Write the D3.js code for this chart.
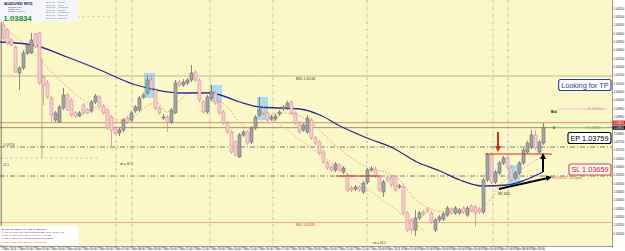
<!DOCTYPE html>
<html>
<head>
<meta charset="utf-8">
<script src="https://cdn.jsdelivr.net/npm/d3@7/dist/d3.min.js"></script>
<style>
  html, body { margin: 0; padding: 0; background: #ffffff; }
  svg { display: block; font-family: 'Liberation Sans', Arial, sans-serif; }
</style>
</head>
<body>
<div id="chart"></div>
<script>
const WIDTH = 625;
const HEIGHT = 251;
const PLOT_RIGHT = 612;
const PLOT_BOTTOM = 246;

// AUDUSD M15 candles
const opens = [
  1.04450, 1.04420, 1.04360, 1.04318, 1.04162, 1.04192, 1.04282, 1.04282, 1.04396, 1.04402,
  1.04138, 1.04102, 1.04012, 1.03880, 1.03868, 1.03952, 1.04030, 1.04000, 1.03922, 1.03904,
  1.03970, 1.03940, 1.03934, 1.03988, 1.04018, 1.03964, 1.03940, 1.03898, 1.03832, 1.03802,
  1.03820, 1.03892, 1.03880, 1.03934, 1.03940, 1.04018, 1.04042, 1.04120, 1.04060, 1.03952,
  1.03892, 1.03898, 1.03868, 1.03922, 1.04108, 1.04090, 1.04102, 1.04120, 1.04168, 1.04120,
  1.03988, 1.03928, 1.04012, 1.04042, 1.03988, 1.03928, 1.03862, 1.03808, 1.03748, 1.03658,
  1.03790, 1.03808, 1.03748, 1.03832, 1.03910, 1.03946, 1.03922, 1.03886, 1.03886, 1.03916,
  1.03946, 1.03952, 1.03988, 1.03922, 1.03862, 1.03820, 1.03808, 1.03880, 1.03772, 1.03748,
  1.03688, 1.03622, 1.03598, 1.03580, 1.03610, 1.03568, 1.03550, 1.03472, 1.03466, 1.03478,
  1.03448, 1.03508, 1.03580, 1.03586, 1.03538, 1.03448, 1.03538, 1.03532, 1.03538, 1.03478,
  1.03478, 1.03322, 1.03280, 1.03220, 1.03292, 1.03328, 1.03346, 1.03322, 1.03220, 1.03280,
  1.03286, 1.03310, 1.03346, 1.03322, 1.03322, 1.03352, 1.03310, 1.03364, 1.03358, 1.03346,
  1.03328, 1.03520, 1.03670, 1.03508, 1.03562, 1.03622, 1.03652, 1.03592, 1.03532, 1.03562,
  1.03622, 1.03688, 1.03718, 1.03790, 1.03688, 1.03742
];
const highs = [
  1.04468, 1.04432, 1.04372, 1.04330, 1.04204, 1.04300, 1.04342, 1.04402, 1.04402, 1.04408,
  1.04150, 1.04120, 1.04024, 1.03934, 1.03970, 1.04072, 1.04042, 1.04012, 1.03934, 1.03934,
  1.03982, 1.03952, 1.04000, 1.04036, 1.04030, 1.03976, 1.03952, 1.03910, 1.03844, 1.03832,
  1.03892, 1.03904, 1.03934, 1.03970, 1.04024, 1.04042, 1.04150, 1.04150, 1.04072, 1.03964,
  1.03916, 1.03910, 1.03952, 1.04120, 1.04120, 1.04126, 1.04132, 1.04210, 1.04180, 1.04132,
  1.04000, 1.04030, 1.04090, 1.04060, 1.04000, 1.03940, 1.03874, 1.03820, 1.03760, 1.03802,
  1.03820, 1.03820, 1.03844, 1.03910, 1.04018, 1.03964, 1.03934, 1.03910, 1.03916, 1.03940,
  1.03970, 1.03994, 1.04000, 1.03934, 1.03874, 1.03862, 1.03910, 1.03892, 1.03784, 1.03760,
  1.03700, 1.03634, 1.03610, 1.03628, 1.03622, 1.03604, 1.03562, 1.03484, 1.03490, 1.03490,
  1.03514, 1.03592, 1.03604, 1.03598, 1.03550, 1.03520, 1.03550, 1.03544, 1.03550, 1.03496,
  1.03490, 1.03334, 1.03292, 1.03340, 1.03334, 1.03340, 1.03358, 1.03334, 1.03292, 1.03310,
  1.03328, 1.03364, 1.03358, 1.03364, 1.03352, 1.03364, 1.03364, 1.03376, 1.03370, 1.03358,
  1.03532, 1.03682, 1.03688, 1.03580, 1.03634, 1.03664, 1.03664, 1.03604, 1.03574, 1.03634,
  1.03712, 1.03754, 1.03820, 1.03820, 1.03760, 1.03862
];
const lows = [
  1.04360, 1.04330, 1.04318, 1.04162, 1.04060, 1.04180, 1.04270, 1.04276, 1.04312, 1.04090,
  1.03970, 1.04006, 1.03862, 1.03868, 1.03862, 1.03940, 1.03934, 1.03898, 1.03892, 1.03898,
  1.03910, 1.03916, 1.03922, 1.03976, 1.03952, 1.03910, 1.03820, 1.03718, 1.03790, 1.03784,
  1.03808, 1.03856, 1.03868, 1.03922, 1.03928, 1.04006, 1.04030, 1.04060, 1.03940, 1.03910,
  1.03880, 1.03808, 1.03856, 1.03916, 1.04078, 1.04078, 1.04090, 1.04108, 1.04108, 1.03988,
  1.03916, 1.03916, 1.04000, 1.03970, 1.03910, 1.03850, 1.03796, 1.03676, 1.03658, 1.03652,
  1.03778, 1.03730, 1.03736, 1.03820, 1.03898, 1.03910, 1.03868, 1.03874, 1.03874, 1.03904,
  1.03934, 1.03940, 1.03910, 1.03850, 1.03796, 1.03808, 1.03796, 1.03760, 1.03730, 1.03670,
  1.03616, 1.03580, 1.03568, 1.03568, 1.03568, 1.03556, 1.03448, 1.03448, 1.03454, 1.03448,
  1.03436, 1.03496, 1.03568, 1.03532, 1.03448, 1.03418, 1.03508, 1.03478, 1.03448, 1.03466,
  1.03310, 1.03208, 1.03196, 1.03184, 1.03280, 1.03304, 1.03322, 1.03256, 1.03208, 1.03268,
  1.03274, 1.03298, 1.03310, 1.03310, 1.03310, 1.03316, 1.03298, 1.03328, 1.03238, 1.03316,
  1.03316, 1.03508, 1.03496, 1.03496, 1.03550, 1.03610, 1.03586, 1.03508, 1.03520, 1.03550,
  1.03610, 1.03676, 1.03706, 1.03700, 1.03676, 1.03730
];
const closes = [
  1.04372, 1.04342, 1.04330, 1.04168, 1.04192, 1.04282, 1.04330, 1.04360, 1.04318, 1.04102,
  1.04090, 1.04018, 1.03910, 1.03922, 1.03958, 1.04030, 1.03940, 1.03910, 1.03904, 1.03922,
  1.03922, 1.03922, 1.03988, 1.04024, 1.03958, 1.03922, 1.03832, 1.03820, 1.03802, 1.03820,
  1.03880, 1.03868, 1.03922, 1.03958, 1.04012, 1.04030, 1.04120, 1.04072, 1.03952, 1.03922,
  1.03898, 1.03868, 1.03940, 1.04102, 1.04090, 1.04108, 1.04120, 1.04162, 1.04120, 1.04000,
  1.03928, 1.04018, 1.04048, 1.03982, 1.03922, 1.03862, 1.03808, 1.03688, 1.03670, 1.03790,
  1.03808, 1.03742, 1.03832, 1.03898, 1.03940, 1.03922, 1.03880, 1.03898, 1.03904, 1.03928,
  1.03958, 1.03982, 1.03922, 1.03862, 1.03808, 1.03850, 1.03892, 1.03772, 1.03742, 1.03682,
  1.03628, 1.03592, 1.03580, 1.03616, 1.03580, 1.03592, 1.03460, 1.03460, 1.03478, 1.03460,
  1.03502, 1.03580, 1.03586, 1.03544, 1.03460, 1.03508, 1.03520, 1.03490, 1.03460, 1.03484,
  1.03322, 1.03220, 1.03220, 1.03292, 1.03322, 1.03316, 1.03334, 1.03268, 1.03280, 1.03298,
  1.03316, 1.03352, 1.03322, 1.03352, 1.03340, 1.03328, 1.03352, 1.03340, 1.03322, 1.03328,
  1.03520, 1.03670, 1.03508, 1.03568, 1.03622, 1.03652, 1.03598, 1.03520, 1.03562, 1.03622,
  1.03700, 1.03742, 1.03790, 1.03712, 1.03748, 1.03834
];

// slow (blue) and fast (orange) moving averages, sampled along the bars
const slowMaBars = [-0.75, 7.5, 16, 24.25, 32.5, 38.5, 44.25, 51.75, 54.25, 59.25, 64.25, 69.25, 74.25, 79.25, 84.25, 91, 97.5, 103.5, 109.25, 114.25, 120, 126, 130.5, 135];
const slowMaValues = [1.04348, 1.04330, 1.04258, 1.04180, 1.04096, 1.04060, 1.04042, 1.04042, 1.04030, 1.03988, 1.03958, 1.03952, 1.03946, 1.03910, 1.03844, 1.03772, 1.03712, 1.03628, 1.03574, 1.03520, 1.03484, 1.03490, 1.03520, 1.03568];
const fastMaBars = [0, 5, 11.75, 16, 20, 24.25, 29.25, 32.5, 36, 38.5, 41, 44.25, 47.5, 50, 53.5, 56.75, 59.25, 61.75, 64.25, 66.75, 70, 73.5, 76.75, 82.5, 86.75, 91, 96, 99.25, 102.5, 106, 110, 114.25, 119.25, 121.75, 124.25, 128.5, 132.5, 135];
const fastMaValues = [1.04438, 1.04342, 1.04180, 1.04078, 1.04000, 1.03940, 1.03880, 1.03898, 1.03964, 1.03982, 1.03928, 1.04000, 1.04048, 1.04048, 1.04012, 1.03940, 1.03862, 1.03832, 1.03868, 1.03910, 1.03922, 1.03910, 1.03868, 1.03742, 1.03658, 1.03598, 1.03562, 1.03520, 1.03418, 1.03358, 1.03328, 1.03328, 1.03340, 1.03400, 1.03490, 1.03568, 1.03628, 1.03670];

// hourly time labels on the bottom scale (every 4 bars)
const timeLabels = [
  '7 Mar 2013', '7 Mar 01:00', '7 Mar 02:00', '7 Mar 03:00', '7 Mar 04:00', '7 Mar 05:00',
  '7 Mar 06:00', '7 Mar 07:00', '7 Mar 08:00', '7 Mar 09:00', '7 Mar 10:00', '7 Mar 11:00',
  '7 Mar 12:00', '7 Mar 13:00', '7 Mar 14:00', '7 Mar 15:00', '7 Mar 16:00', '7 Mar 17:00',
  '7 Mar 18:00', '7 Mar 19:00', '7 Mar 20:00', '7 Mar 21:00', '7 Mar 22:00', '7 Mar 23:00',
  '8 Mar 2013', '8 Mar 01:00', '8 Mar 02:00', '8 Mar 03:00', '8 Mar 04:00', '8 Mar 05:00',
  '8 Mar 06:00', '8 Mar 07:00', '8 Mar 08:00', '8 Mar 09:00'
];

// horizontal levels drawn on the chart
const levelPrices = [1.04144, 1.03864, 1.03834, 1.03718, 1.03544, 1.03265];
const levelColors = ['#bcae84', '#c8866a', '#8c8458', '#6a6a6a', '#6a6a6a', '#e8a47c'];
const levelDashes = [null, null, null, '5,2,1,2', '5,2,1,2', null];

// vertical session separators (bar positions)
const separatorBars = [28.25, 32.25, 51.75, 67.5, 91, 122.5, 126.25];

// highlighted zones: [firstBar, lastBar] and [topPrice, bottomPrice]
const zoneBars = [[35.25, 38], [51.75, 54.75], [63.5, 66.25], [126.25, 129.25]];
const zonePrices = [[1.04162, 1.04012], [1.04090, 1.03988], [1.04018, 1.03880], [1.03610, 1.03490]];

const ASK = 1.03864;
const BID = 1.03834;
const TP_LINE = 1.03946;

document.addEventListener('DOMContentLoaded', () => {
    drawChart();
});

function drawChart() {
    const svg = d3.select('#chart')
        .append('svg')
        .attr('width', WIDTH)
        .attr('height', HEIGHT);

    const x = d3.scaleLinear().domain([-0.75, 152.25]).range([0, PLOT_RIGHT]);
    const y = d3.scaleLinear().domain([1.0460, 1.03124]).range([0, PLOT_BOTTOM]);

    svg.append('rect')
        .attr('width', WIDTH).attr('height', HEIGHT)
        .attr('fill', '#ffffff');
    svg.append('rect')
        .attr('x', 0).attr('y', 0)
        .attr('width', PLOT_RIGHT).attr('height', PLOT_BOTTOM)
        .attr('fill', '#fcf7c9');

    const plot = svg.append('g');

    // highlighted zones
    plot.selectAll('rect.zone')
        .data(zoneBars)
        .join('rect')
        .attr('class', 'zone')
        .attr('x', (d) => x(d[0]))
        .attr('width', (d) => x(d[1]) - x(d[0]))
        .attr('y', (d, i) => y(zonePrices[i][0]))
        .attr('height', (d, i) => y(zonePrices[i][1]) - y(zonePrices[i][0]))
        .attr('fill', '#9ad8ee')
        .attr('opacity', 0.85);

    // horizontal levels
    plot.selectAll('line.level')
        .data(levelPrices)
        .join('line')
        .attr('class', 'level')
        .attr('x1', 0).attr('x2', PLOT_RIGHT)
        .attr('y1', (d) => y(d)).attr('y2', (d) => y(d))
        .attr('stroke', (d, i) => levelColors[i])
        .attr('stroke-width', 0.9)
        .attr('stroke-dasharray', (d, i) => levelDashes[i]);

    // session separators
    plot.selectAll('line.sep')
        .data(separatorBars)
        .join('line')
        .attr('class', 'sep')
        .attr('x1', (d) => x(d)).attr('x2', (d) => x(d))
        .attr('y1', 0).attr('y2', PLOT_BOTTOM)
        .attr('stroke', '#999')
        .attr('stroke-width', 0.6)
        .attr('stroke-dasharray', '3,1.5,1,1.5');

    // old projection tool on the left
    plot.append('line')
        .attr('x1', x(9.75)).attr('x2', x(9.75))
        .attr('y1', y(1.04252)).attr('y2', y(1.03652))
        .attr('stroke', '#8a8a7a').attr('stroke-width', 0.7);
    plot.append('line')
        .attr('x1', x(-0.75)).attr('x2', x(24.25))
        .attr('y1', y(1.03652)).attr('y2', y(1.03652))
        .attr('stroke', '#e0a8a8').attr('stroke-width', 0.7)
        .attr('stroke-dasharray', '3,2');
    plot.append('line')
        .attr('x1', x(18.5)).attr('x2', x(27.5))
        .attr('y1', y(1.04500)).attr('y2', y(1.04500))
        .attr('stroke', '#e8c08a').attr('stroke-width', 0.7)
        .attr('stroke-dasharray', '3,2');

    // descending trend line
    plot.append('line')
        .attr('x1', x(67.5)).attr('y1', y(1.03880))
        .attr('x2', x(105.5)).attr('y2', y(1.03214))
        .attr('stroke', '#e4a88a').attr('stroke-width', 0.7)
        .attr('stroke-dasharray', '2,1');

    // moving averages
    const maLine = d3.line()
        .x((d) => x(d[0]))
        .y((d) => y(d[1]))
        .curve(d3.curveMonotoneX);

    plot.append('path')
        .datum(fastMaBars.map((b, i) => [b, fastMaValues[i]]))
        .attr('d', maLine)
        .attr('fill', 'none')
        .attr('stroke', '#e49a6c')
        .attr('stroke-width', 0.8)
        .attr('stroke-dasharray', '2,1.5');

    plot.append('path')
        .datum(slowMaBars.map((b, i) => [b, slowMaValues[i]]))
        .attr('d', maLine)
        .attr('fill', 'none')
        .attr('stroke', '#2b2b8e')
        .attr('stroke-width', 1.3);

    // candles
    const candles = d3.range(opens.length).map((i) => ({
        i, o: opens[i], h: highs[i], l: lows[i], c: closes[i], up: closes[i] >= opens[i]
    }));

    const candle = plot.selectAll('g.candle')
        .data(candles)
        .join('g')
        .attr('class', 'candle');

    candle.append('line')
        .attr('x1', (d) => x(d.i) + 0.5).attr('x2', (d) => x(d.i) + 0.5)
        .attr('y1', (d) => y(d.h)).attr('y2', (d) => y(d.l))
        .attr('stroke', (d) => d.up ? '#6c6c6c' : '#d98c98')
        .attr('stroke-width', 0.8);

    candle.append('rect')
        .attr('x', (d) => x(d.i) - 1)
        .attr('width', 3)
        .attr('y', (d) => y(Math.max(d.o, d.c)))
        .attr('height', (d) => Math.max(0.8, Math.abs(y(d.o) - y(d.c))))
        .attr('fill', (d) => d.up ? '#a4a4a4' : '#f5cdd2')
        .attr('stroke', (d) => d.up ? '#6c6c6c' : '#d98c98')
        .attr('stroke-width', 0.6);

    drawAnnotations(svg, x, y);
    drawAxes(svg, x, y);
    drawPanels(svg);
}

function drawAnnotations(svg, x, y) {
    const g = svg.append('g');

    const defs = svg.append('defs');
    [['head-red', '#d42a18'], ['head-black', '#000000']].forEach(([id, color]) => {
        defs.append('marker')
            .attr('id', id)
            .attr('viewBox', '0 0 10 10')
            .attr('refX', 5).attr('refY', 5)
            .attr('markerWidth', 3).attr('markerHeight', 3)
            .attr('orient', 'auto')
            .append('path')
            .attr('d', 'M0,0 L10,5 L0,10 z')
            .attr('fill', color);
    });

    // red entry lines
    g.append('line')
        .attr('x1', x(83.25)).attr('x2', x(94.25))
        .attr('y1', y(1.03544)).attr('y2', y(1.03544))
        .attr('stroke', '#c8321e').attr('stroke-width', 1);
    g.append('line')
        .attr('x1', x(120.5)).attr('x2', x(137.25))
        .attr('y1', y(1.03676)).attr('y2', y(1.03676))
        .attr('stroke', '#c8321e').attr('stroke-width', 1);

    // arrows
    g.append('line')
        .attr('x1', x(123.75)).attr('y1', y(1.03808))
        .attr('x2', x(123.75)).attr('y2', y(1.03706))
        .attr('stroke', '#d42a18').attr('stroke-width', 2)
        .attr('marker-end', 'url(#head-red)');
    g.append('line')
        .attr('x1', x(135)).attr('y1', y(1.03568))
        .attr('x2', x(135)).attr('y2', y(1.03664))
        .attr('stroke', '#000').attr('stroke-width', 2)
        .attr('marker-end', 'url(#head-black)');
    g.append('line')
        .attr('x1', x(124)).attr('y1', y(1.03466))
        .attr('x2', x(136.5)).attr('y2', y(1.03534))
        .attr('stroke', '#000').attr('stroke-width', 2)
        .attr('marker-end', 'url(#head-black)');

    // take-profit and bid markers on the right
    g.append('line')
        .attr('x1', x(138.75)).attr('x2', x(151))
        .attr('y1', y(TP_LINE)).attr('y2', y(TP_LINE))
        .attr('stroke', '#e2a8dc').attr('stroke-width', 0.8);
    g.append('line')
        .attr('x1', x(137.75)).attr('x2', x(151))
        .attr('y1', y(BID)).attr('y2', y(BID))
        .attr('stroke', '#7ee07a').attr('stroke-width', 0.8);
    g.append('circle')
        .attr('cx', x(137.75)).attr('cy', y(BID))
        .attr('r', 1.4).attr('fill', '#22b822');

    const tiny = (tx, ty, text, color, size = 3.2, weight = 'normal') => g.append('text')
        .attr('x', tx).attr('y', ty)
        .attr('font-size', size)
        .attr('font-weight', weight)
        .attr('fill', color)
        .text(text);

    tiny(551, y(TP_LINE) + 3.5, 'Bid', '#000', 3.4, 'bold');
    tiny(588, y(TP_LINE) + 1.2, 'H 1.03934', '#d68ad0');
    tiny(586, y(BID) + 1.2, 'S 1.03834', '#3cbc3c');
    tiny(552, 179, 'H/1.03524 * 30.6pips', '#d05a3a');
    tiny(498, 195, 'W1 6/26', '#222');
    tiny(296, 79.5, 'BKD 1.04144', '#333');
    tiny(296, 225.5, 'BKD 1.03265', '#d0402a');
    tiny(3, 145.5, '1.03718', '#444');
    tiny(3, 166, '11.5', '#444');
    tiny(120, 164.5, 'wt = 30.1', '#333');
    tiny(373, 243.5, 'wt = 24.5', '#333');

    // callout boxes, sized to their text and right-aligned inside the plot
    const callout = (right, top, text, stroke, fill, color) => {
        const box = g.append('rect')
            .attr('rx', 2)
            .attr('fill', fill)
            .attr('stroke', stroke)
            .attr('stroke-width', 1.1);
        const label = g.append('text')
            .attr('x', right - 2.5).attr('y', top + 8.4)
            .attr('text-anchor', 'end')
            .attr('font-size', 7.3)
            .attr('fill', color)
            .text(text);
        const w = label.node().getComputedTextLength();
        box.attr('x', right - w - 5).attr('y', top)
            .attr('width', w + 5).attr('height', 11);
    };
    callout(611, 79.5, 'Looking for TP', '#2a3c9e', '#ffffff', '#1c3aa0');
    callout(611, 132.5, 'EP 1.03759', '#000000', '#ffffff', '#000000');
    callout(611, 164, 'SL 1.03659', '#d44a44', '#fff6f2', '#c8282a');
}

function drawAxes(svg, x, y) {
    // ticks hidden under the ask / bid marks are left out, as the terminal does
    const priceTicks = d3.range(1.0320, 1.04575, 0.0005)
        .filter((p) => Math.abs(y(p) - y(ASK)) > 3 && Math.abs(y(p) - y(BID)) > 3);

    const right = svg.append('g')
        .attr('transform', `translate(${PLOT_RIGHT},0)`)
        .call(d3.axisRight(y).tickValues(priceTicks).tickFormat(d3.format('.5f')).tickSize(1).tickPadding(0.6));
    right.select('.domain').attr('stroke', '#555').attr('stroke-width', 0.6);
    right.selectAll('.tick line').attr('stroke', '#555').attr('stroke-width', 0.5);
    right.selectAll('.tick text').attr('font-size', 2.9).attr('fill', '#222');

    // highlighted ask / bid marks on the price scale
    [[ASK, '#d42020'], [BID, '#111111']].forEach(([price, color]) => {
        svg.append('rect')
            .attr('x', PLOT_RIGHT + 0.5).attr('y', y(price) - 2.1)
            .attr('width', 12.5).attr('height', 4.2)
            .attr('fill', color);
        svg.append('text')
            .attr('x', PLOT_RIGHT + 1.4).attr('y', y(price) + 1.1)
            .attr('font-size', 2.9).attr('fill', '#ffffff')
            .text(d3.format('.5f')(price));
    });

    const timeTicks = timeLabels.map((d, i) => i * 4);
    const bottom = svg.append('g')
        .attr('transform', `translate(0,${PLOT_BOTTOM})`)
        .call(d3.axisBottom(x).tickValues(timeTicks).tickFormat((d, i) => timeLabels[i]).tickSize(1.5).tickPadding(0.5));
    bottom.select('.domain').attr('stroke', '#555').attr('stroke-width', 0.6);
    bottom.selectAll('.tick line').attr('stroke', '#555').attr('stroke-width', 0.5);
    bottom.selectAll('.tick text')
        .attr('font-size', 2.9)
        .attr('fill', '#222')
        .attr('text-anchor', 'start')
        .attr('dx', -2);

    svg.append('line')
        .attr('x1', 1.2).attr('x2', 1.2)
        .attr('y1', 0).attr('y2', PLOT_BOTTOM)
        .attr('stroke', '#555').attr('stroke-width', 0.8);
}

function drawPanels(svg) {
    const info = svg.append('g');
    info.append('rect')
        .attr('x', 0).attr('y', 0)
        .attr('width', 78).attr('height', 21.5)
        .attr('fill', '#f4f4fb');
    info.append('text').attr('x', 4).attr('y', 4.8)
        .attr('font-size', 4.4).attr('font-weight', 'bold').attr('fill', '#1a1a60')
        .text('AUDUSD  M15');
    ['Spread:  1.75', 'Range:  25.4', 'Candle:  10:54 m'].forEach((t, i) => {
        info.append('text').attr('x', 8).attr('y', 7.6 + i * 2.4)
            .attr('font-size', 2.3).attr('fill', '#333').text(t);
    });
    info.append('text').attr('x', 3.5).attr('y', 20.6)
        .attr('font-size', 7.8).attr('font-weight', 'bold').attr('fill', '#1e8c28')
        .text('1.03834');

    const sessionTimes = ['07:00 Inc', '09:00 Inc', '10:00 Inc', '16:00 Inc', '17:00 Inc', '17:00 Inc', '22:00 Inc'];
    const sessionNames = ['Sydney', 'Tokyo', 'Hongkong', 'London', 'Frankfurt 1h', 'Zurich 1h', 'NewYork'];
    const sessionColors = ['#555', '#555', '#555', '#2a9a2a', '#2a9a2a', '#2a9a2a', '#555'];
    sessionTimes.forEach((t, i) => {
        info.append('text').attr('x', 46).attr('y', 3 + i * 2.6)
            .attr('font-size', 2.2).attr('fill', '#555').text(t);
        info.append('text').attr('x', 58).attr('y', 3 + i * 2.6)
            .attr('font-size', 2.2).attr('fill', sessionColors[i]).text(sessionNames[i]);
    });

    const legend = svg.append('g');
    legend.append('rect')
        .attr('x', 0).attr('y', 226)
        .attr('width', 78).attr('height', 19)
        .attr('fill', '#ffffff');
    const legendLines = [
        ['BANKS B. ENTRY PHASE CANDLE(S)', '#111'],
        ['1 Ask 07 mins until AUD STRONG/BEARISH 06.54 1.03', '#2a3aa8'],
        ['2 Bid 07 mins until USD Weakness (CLOSE)', '#c83a3a'],
        ['W Bid 7 mins until AUD Exhaustion trend Zone', '#2a3aa8'],
        ['1 Ask 8 mins until USD Prev 1.03759 buy', '#c83a3a']
    ];
    legendLines.forEach(([t, c], i) => {
        legend.append('text').attr('x', 2).attr('y', 229.5 + i * 3.3)
            .attr('font-size', 2.5).attr('fill', c).text(t);
    });
}
</script>
</body>
</html>
